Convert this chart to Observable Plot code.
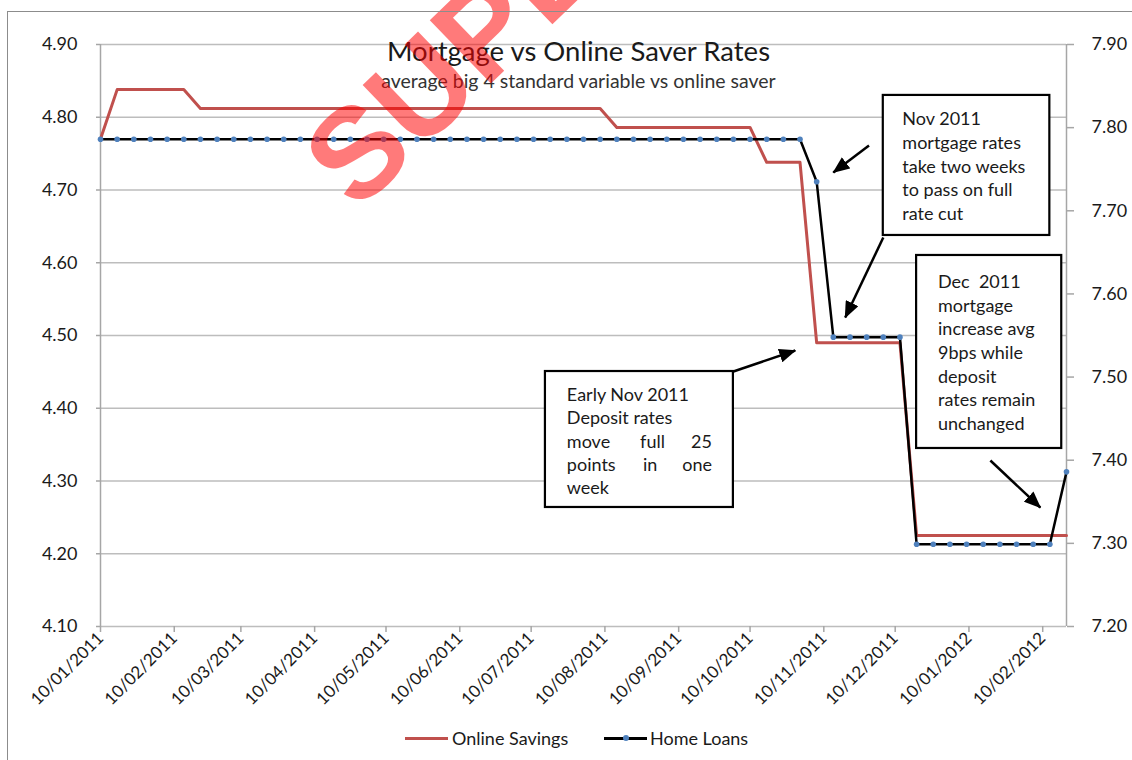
<!DOCTYPE html>
<html>
<head>
<meta charset="utf-8">
<script src="https://cdn.jsdelivr.net/npm/d3@7"></script>
<script src="https://cdn.jsdelivr.net/npm/@observablehq/plot@0.6"></script>
<style>
  html, body { margin: 0; padding: 0; background: #fff; overflow: hidden; }
  body { width: 1132px; height: 760px; position: relative; font-family: Lato, "Open Sans", sans-serif; color: #1a1a1a; }
  #chart svg { display: block; }
  #frame { position: absolute; left: 7px; top: 11px; width: 1300px; height: 900px;
           border-left: 1.5px solid #8c8c8c; border-top: 1.5px solid #8c8c8c; pointer-events: none; }
  #legend { position: absolute; left: 0; top: 722px; width: 1132px; height: 38px; font-size: 18px; }
  #legend .sw { position: absolute; }
  #legend .lab { position: absolute; top: 5px; line-height: 22px; }
</style>
</head>
<body>
<div id="chart"></div>
<div id="legend">
  <span class="sw" style="left:405px; top:14.5px; width:43px; height:3px; background:#c0504d"></span>
  <span class="lab" style="left:452px">Online Savings</span>
  <span class="sw" style="left:604px; top:15px; width:43px; height:2.5px; background:#000"></span>
  <span class="sw" style="left:623px; top:13.2px; width:6px; height:6px; border-radius:3px; background:#4f81bd"></span>
  <span class="lab" style="left:650px">Home Loans</span>
</div>
<div id="frame"></div>
<script>
// ---- data ----
const weekDates = [
  "2011-01-10","2011-01-17","2011-01-24","2011-01-31",
  "2011-02-07","2011-02-14","2011-02-21","2011-02-28",
  "2011-03-07","2011-03-14","2011-03-21","2011-03-28",
  "2011-04-04","2011-04-11","2011-04-18","2011-04-25",
  "2011-05-02","2011-05-09","2011-05-16","2011-05-23","2011-05-30",
  "2011-06-06","2011-06-13","2011-06-20","2011-06-27",
  "2011-07-04","2011-07-11","2011-07-18","2011-07-25",
  "2011-08-01","2011-08-08","2011-08-15","2011-08-22","2011-08-29",
  "2011-09-05","2011-09-12","2011-09-19","2011-09-26",
  "2011-10-03","2011-10-10","2011-10-17","2011-10-24","2011-10-31",
  "2011-11-07","2011-11-14","2011-11-21","2011-11-28",
  "2011-12-05","2011-12-12","2011-12-19","2011-12-26",
  "2012-01-02","2012-01-09","2012-01-16","2012-01-23","2012-01-30",
  "2012-02-06","2012-02-13","2012-02-20"
];
// Online Savings (left axis, %)
const onlineSavings = [
  4.770,4.838,4.838,4.838,
  4.838,4.838,4.812,4.812,
  4.812,4.812,4.812,4.812,
  4.812,4.812,4.812,4.812,
  4.812,4.812,4.812,4.812,4.812,
  4.812,4.812,4.812,4.812,
  4.812,4.812,4.812,4.812,
  4.812,4.812,4.786,4.786,4.786,
  4.786,4.786,4.786,4.786,
  4.786,4.786,4.738,4.738,4.738,
  4.490,4.490,4.490,4.490,
  4.490,4.490,4.225,4.225,
  4.225,4.225,4.225,4.225,4.225,
  4.225,4.225,4.225
];
// Home Loans (right axis, %)
const homeLoans = [
  7.786,7.786,7.786,7.786,
  7.786,7.786,7.786,7.786,
  7.786,7.786,7.786,7.786,
  7.786,7.786,7.786,7.786,
  7.786,7.786,7.786,7.786,7.786,
  7.786,7.786,7.786,7.786,
  7.786,7.786,7.786,7.786,
  7.786,7.786,7.786,7.786,7.786,
  7.786,7.786,7.786,7.786,
  7.786,7.786,7.786,7.786,7.786,
  7.735,7.548,7.548,7.548,
  7.548,7.548,7.299,7.299,
  7.299,7.299,7.299,7.299,7.299,
  7.299,7.299,7.386
];
const leftTicks = [4.10,4.20,4.30,4.40,4.50,4.60,4.70,4.80,4.90];
const rightTicks = [7.20,7.30,7.40,7.50,7.60,7.70,7.80,7.90];
const monthTicks = ["2011-01-10","2011-02-10","2011-03-10","2011-04-10","2011-05-10","2011-06-10",
  "2011-07-10","2011-08-10","2011-09-10","2011-10-10","2011-11-10","2011-12-10","2012-01-10","2012-02-10"];
const seriesNames = ["Online Savings", "Home Loans"];
const titleText = "Mortgage vs Online Saver Rates";
const subtitleText = "average big 4 standard variable vs online saver";
const watermarkText = "SUPERSEDED";

// annotations, in data units (date, left-axis value)
const noteBoxes = [
  {x1:"2011-12-05", x2:"2012-02-13", y1:4.830, y2:4.6375},
  {x1:"2011-12-19", x2:"2012-02-18", y1:4.610, y2:4.3447},
  {x1:"2011-07-16", x2:"2011-10-03", y1:4.4505, y2:4.2636}
];
const noteBlocks = [
  {x:"2011-12-13", y:4.7344, text:"Nov 2011\nmortgage rates\ntake two weeks\nto pass on full\nrate cut"},
  {x:"2011-12-28", y:4.4780, text:"Dec  2011\nmortgage\nincrease avg\n9bps while\ndeposit\nrates remain\nunchanged"}
];
const noteStartWords = [
  {x:"2011-07-25", y:4.4175, text:"Early Nov 2011"},
  {x:"2011-07-25", y:4.3859, text:"Deposit rates"},
  {x:"2011-07-25", y:4.3533, text:"move"},
  {x:"2011-07-25", y:4.3213, text:"points"},
  {x:"2011-07-25", y:4.2897, text:"week"}
];
const noteMiddleWords = [
  {x:"2011-08-30", y:4.3533, text:"full"},
  {x:"2011-08-29", y:4.3213, text:"in"}
];
const noteEndWords = [
  {x:"2011-09-24", y:4.3533, text:"25"},
  {x:"2011-09-24", y:4.3213, text:"one"}
];
const noteArrows = [
  {x1:"2011-11-29", y1:4.7612, x2:"2011-11-14", y2:4.7241},
  {x1:"2011-12-05", y1:4.6347, x2:"2011-11-19", y2:4.5247},
  {x1:"2011-10-03", y1:4.4505, x2:"2011-10-29", y2:4.4794},
  {x1:"2012-01-19", y1:4.3282, x2:"2012-02-09", y2:4.2636}
];

// ---- build ----
const parse = d3.utcParse("%Y-%m-%d");
const dates = weekDates.map(parse);
const L0 = 4.10, L1 = 4.90, R0 = 7.20, R1 = 7.90;
const toLeft = v => L0 + (v - R0) * (L1 - L0) / (R1 - R0);
const toRight = v => R0 + (v - L0) * (R1 - R0) / (L1 - L0);

const savings = dates.map((date, i) => ({date, value: onlineSavings[i], series: seriesNames[0]}));
const loans = dates.map((date, i) => ({date, value: toLeft(homeLoans[i]), series: seriesNames[1]}));
const px = d => ({...d, x: d.x ? parse(d.x) : undefined, x1: d.x1 ? parse(d.x1) : undefined, x2: d.x2 ? parse(d.x2) : undefined});

const font = "Lato, 'Open Sans', sans-serif";
const noteFont = 18, noteLH = 23.7 / 18;

const chart = Plot.plot({
  width: 1132, height: 722,
  marginLeft: 100, marginRight: 66, marginTop: 44, marginBottom: 96,
  style: {fontFamily: font, fontSize: "18px", color: "#1a1a1a", background: "transparent"},
  x: {type: "utc", domain: [dates[0], dates[dates.length - 1]], label: null},
  y: {domain: [L0, L1], label: null},
  marks: [
    Plot.ruleY(leftTicks, {stroke: "#bdbdbd", strokeWidth: 1.5}),
    Plot.ruleX([dates[0], dates[dates.length - 1]], {stroke: "#a6a6a6", strokeWidth: 1.5}),
    Plot.axisY({anchor: "left", ticks: leftTicks, tickFormat: d => d.toFixed(2), tickSize: 4, tickPadding: 19,
      stroke: "#a6a6a6", strokeWidth: 1.5, fill: "#1a1a1a", fontSize: 18, label: null}),
    Plot.axisY({anchor: "right", ticks: rightTicks.map(toLeft), tickFormat: d => toRight(d).toFixed(2), tickSize: 7, tickPadding: 18,
      stroke: "#a6a6a6", strokeWidth: 1.5, fill: "#1a1a1a", fontSize: 18, label: null}),
    Plot.axisX({ticks: monthTicks.map(parse), tickFormat: d3.utcFormat("%d/%m/%Y"), tickRotate: -45, tickSize: 6, tickPadding: 3,
      stroke: "#a6a6a6", strokeWidth: 1.5, fill: "#1a1a1a", fontSize: 17, label: null}),
    Plot.lineY(savings, {x: "date", y: "value", stroke: "#c0504d", strokeWidth: 3}),
    Plot.lineY(loans, {x: "date", y: "value", stroke: "#000", strokeWidth: 2.5}),
    Plot.dot(loans, {x: "date", y: "value", r: 2.8, fill: "#4f81bd"}),
    // titles
    Plot.text([titleText], {text: d => d, frameAnchor: "top", dx: -5, dy: 7.2, fontSize: 27.5, fill: "#1a1a1a", lineAnchor: "middle"}),
    Plot.text([subtitleText], {text: d => d, frameAnchor: "top", dx: -5, dy: 36.8, fontSize: 19.5, fill: "#333", lineAnchor: "middle"}),
    // annotations
    Plot.link(noteArrows.map(px), {x1: "x1", y1: "y1", x2: "x2", y2: "y2", stroke: "#000", strokeWidth: 2.5}),
    Plot.rect(noteBoxes.map(px), {x1: "x1", x2: "x2", y1: "y1", y2: "y2", fill: "#fff", stroke: "#000", strokeWidth: 2.2}),
    Plot.text(noteBlocks.map(px), {x: "x", y: "y", text: "text", textAnchor: "start", lineAnchor: "middle", fontSize: noteFont, lineHeight: noteLH, fill: "#1a1a1a"}),
    Plot.text(noteStartWords.map(px), {x: "x", y: "y", text: "text", textAnchor: "start", lineAnchor: "middle", fontSize: noteFont, fill: "#1a1a1a"}),
    Plot.text(noteMiddleWords.map(px), {x: "x", y: "y", text: "text", textAnchor: "middle", lineAnchor: "middle", fontSize: noteFont, fill: "#1a1a1a"}),
    Plot.text(noteEndWords.map(px), {x: "x", y: "y", text: "text", textAnchor: "end", lineAnchor: "middle", fontSize: noteFont, fill: "#1a1a1a"}),
    // watermark
    Plot.text([watermarkText], {text: d => d, frameAnchor: "top-left", dx: 228, dy: 139, rotate: -44, fontSize: 128,
      fontWeight: "bold", fontFamily: "'Liberation Sans', Arial, sans-serif", fill: "#ff0000", fillOpacity: 0.52,
      textAnchor: "start", lineAnchor: "middle"})
  ]
});

// filled arrowheads for the callout arrows
const ns = "http://www.w3.org/2000/svg";
const defs = document.createElementNS(ns, "defs");
const marker = document.createElementNS(ns, "marker");
marker.setAttribute("id", "callout-head");
marker.setAttribute("viewBox", "0 0 17 14");
marker.setAttribute("refX", "16");
marker.setAttribute("refY", "7");
marker.setAttribute("markerWidth", "17");
marker.setAttribute("markerHeight", "14");
marker.setAttribute("markerUnits", "userSpaceOnUse");
marker.setAttribute("orient", "auto");
const head = document.createElementNS(ns, "path");
head.setAttribute("d", "M0,0L17,7L0,14Z");
head.setAttribute("fill", "#000");
marker.appendChild(head);
defs.appendChild(marker);
chart.insertBefore(defs, chart.firstChild);
chart.querySelectorAll('g[aria-label="link"] path, g[aria-label="link"] line').forEach(p => p.setAttribute("marker-end", "url(#callout-head)"));

document.getElementById("chart").appendChild(chart);
</script>
</body>
</html>
